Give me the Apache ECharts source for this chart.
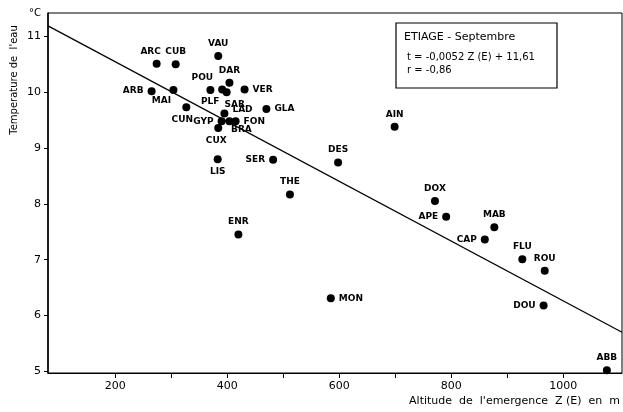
<!DOCTYPE html>
<html>
<head>
<meta charset="utf-8">
<script src="https://cdn.jsdelivr.net/npm/echarts@6/dist/echarts.min.js"></script>
<style>
html, body { margin: 0; padding: 0; background: #fff; }
#chart { width: 623px; height: 412px; }
</style>
</head>
<body>
<div id="chart"></div>
<script>
// sources : nom, altitude de l'emergence (m), temperature (°C)
var names = ['ARC', 'CUB', 'VAU', 'DAR', 'POU', 'ARB', 'MAI', 'PLF', 'SAR', 'VER',
             'CUN', 'GLA', 'LAD', 'GYP', 'BRA', 'FON', 'CUX', 'LIS', 'SER', 'DES',
             'THE', 'ENR', 'AIN', 'DOX', 'APE', 'CAP', 'MAB', 'FLU', 'ROU', 'DOU',
             'ABB', 'MON'];
var altitude = [274, 308, 384, 404, 370, 265, 304, 391, 399, 431,
                327, 470, 395, 390, 404, 415, 384, 383, 482, 598,
                512, 420, 699, 771, 791, 860, 877, 927, 967, 965,
                1078, 585];
var temperature = [10.51, 10.50, 10.65, 10.17, 10.04, 10.02, 10.04, 10.05, 10.00, 10.05,
                   9.73, 9.70, 9.62, 9.48, 9.48, 9.48, 9.36, 8.80, 8.79, 8.74,
                   8.17, 7.45, 9.38, 8.05, 7.77, 7.36, 7.58, 7.01, 6.80, 6.18,
                   5.02, 6.31];

// droite de regression (extremites)
var lineAlt = [80, 1105];
var lineTemp = [11.19, 5.70];

var xLabels = [200, 400, 600, 800, 1000];
var xTicks = [200, 300, 400, 500, 600, 700, 800, 900, 1000];
var yLabels = [5, 6, 7, 8, 9, 10, 11];

// position des etiquettes autour des points
var labelPos = {
    ARB: 'left', MAI: 'bottom', PLF: 'bottom', SAR: 'bottom', VER: 'right',
    CUN: 'bottom', GLA: 'right', LAD: 'right', GYP: 'left', FON: 'right',
    BRA: 'bottom', CUX: 'bottom', LIS: 'bottom', SER: 'left', APE: 'left',
    CAP: 'left', DOU: 'left', MON: 'right'
};
var labelOffset = {
    MAI: [-12, -2], PLF: [-12, 0], SAR: [8, 0], CUN: [-4, 0], LAD: [0, -4],
    BRA: [12, -4], CUX: [-2, 0], ARC: [-6, 0], POU: [-8, 0]
};

var points = [];
for (var i = 0; i < names.length; i++) {
    points.push({
        name: names[i],
        value: [altitude[i], temperature[i]],
        label: {
            position: labelPos[names[i]] || 'top',
            offset: labelOffset[names[i]] || [0, 0]
        }
    });
}
var regLine = [];
for (var j = 0; j < lineAlt.length; j++) {
    regLine.push([lineAlt[j], lineTemp[j]]);
}

var font = 'DejaVu Sans';
var option = {
    backgroundColor: '#fff',
    animation: false,
    textStyle: { fontFamily: font, color: '#000' },
    grid: { left: 48, right: 1, top: 13, bottom: 39, show: true, borderColor: '#000', borderWidth: 1 },
    xAxis: {
        type: 'value',
        min: 80,
        max: 1105,
        splitLine: { show: false },
        axisLine: { lineStyle: { color: '#000', width: 1 } },
        axisTick: { customValues: xTicks, length: 5, lineStyle: { color: '#000' } },
        axisLabel: {
            customValues: xLabels, color: '#000', fontSize: 11, margin: 8,
            formatter: function (v) { return String(v); }
        }
    },
    yAxis: {
        type: 'value',
        min: 4.97,
        max: 11.42,
        splitLine: { show: false },
        axisLine: { lineStyle: { color: '#000', width: 1.5 } },
        axisTick: { customValues: yLabels, length: 4, lineStyle: { color: '#000' } },
        axisLabel: {
            customValues: yLabels, color: '#000', fontSize: 11, margin: 7,
            formatter: function (v) { return String(v); }
        }
    },
    series: [
        {
            type: 'line',
            data: regLine,
            symbol: 'none',
            lineStyle: { color: '#000', width: 1.3 },
            silent: true
        },
        {
            type: 'scatter',
            data: points,
            symbol: 'circle',
            symbolSize: 8,
            itemStyle: { color: '#000', opacity: 1 },
            label: {
                show: true,
                formatter: '{b}',
                fontFamily: font,
                fontSize: 9,
                fontWeight: 'bold',
                color: '#000',
                distance: 4
            }
        }
    ],
    graphic: [
        {
            type: 'text',
            x: 14, y: 80,
            rotation: Math.PI / 2,
            style: { text: "Temperature de  l'eau", fill: '#000', font: '10px ' + font, textAlign: 'center', textVerticalAlign: 'middle' }
        },
        {
            type: 'text',
            x: 29, y: 8,
            style: { text: '°C', fill: '#000', font: '10px ' + font }
        },
        {
            type: 'text',
            right: 3, y: 396,
            style: { text: "Altitude  de  l'emergence  Z (E)  en  m", fill: '#000', font: '11px ' + font }
        },
        {
            type: 'rect',
            shape: { x: 396, y: 23, width: 161, height: 65 },
            style: { fill: '#fff', stroke: '#000', lineWidth: 1.2 }
        },
        {
            type: 'text',
            x: 404, y: 32,
            style: { text: 'ETIAGE - Septembre', fill: '#000', font: '11px ' + font }
        },
        {
            type: 'text',
            x: 407, y: 52,
            style: { text: 't = -0,0052 Z (E) + 11,61', fill: '#000', font: '10px ' + font }
        },
        {
            type: 'text',
            x: 407, y: 65,
            style: { text: 'r = -0,86', fill: '#000', font: '10px ' + font }
        }
    ]
};

var myChart = echarts.init(document.getElementById('chart'));
myChart.setOption(option);
</script>
</body>
</html>
